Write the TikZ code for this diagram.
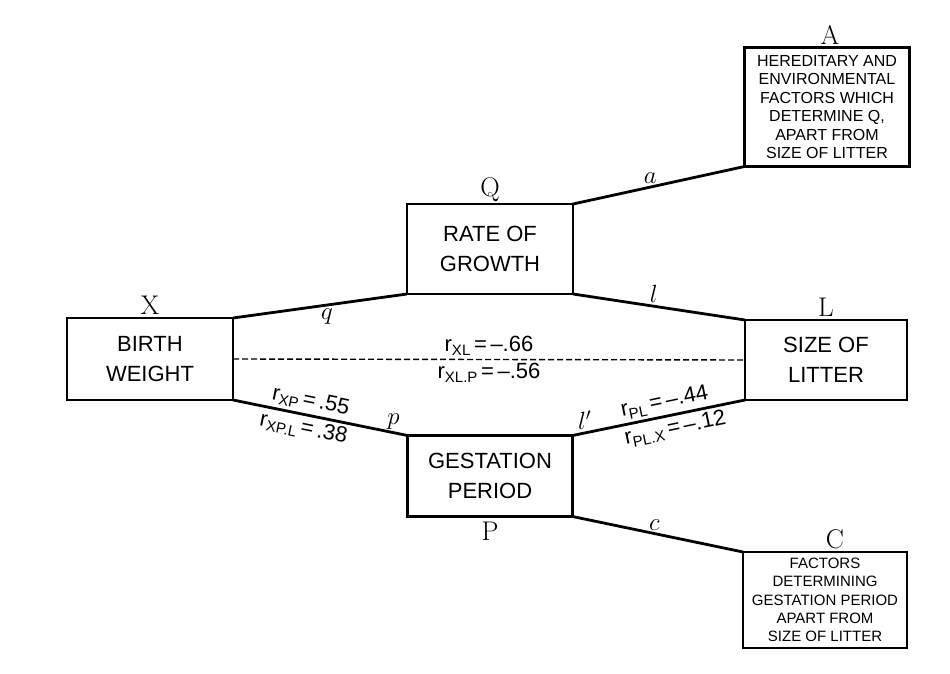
\documentclass[tikz,border=0pt]{standalone}
\usepackage{fontspec}
\setsansfont{Liberation Sans}
\usepackage{tikz}
\usetikzlibrary{positioning}

\newcommand{\rsub}[2]{r\raisebox{-0.35ex}{\fontsize{15}{15}\selectfont #1}\,=\,#2}

\begin{document}
\begin{tikzpicture}[x=1pt,y=-1pt,
    box/.style={draw,line width=2.8pt,align=center,inner sep=0pt,outer sep=0pt,
      font=\sffamily\fontsize{22}{30}\selectfont},
    note/.style={draw,line width=2.6pt,align=center,inner sep=0pt,outer sep=0pt},
    letter/.style={inner sep=0pt,font=\fontsize{27}{27}\selectfont},
    link/.style={line width=2.8pt},
    coef/.style={font=\fontsize{24}{24}\selectfont,inner sep=2pt},
    corr/.style={font=\sffamily\fontsize{22}{22}\selectfont,inner sep=3pt}]
    \useasboundingbox (0,0) rectangle (950,674);
    % boxes
    \node[box,minimum width=166pt,minimum height=82pt] (bx) at (150,359) {BIRTH\\WEIGHT};
    \node[box,minimum width=166pt,minimum height=90pt] (bq) at (490,249) {RATE OF\\GROWTH};
    \node[box,minimum width=162pt,minimum height=80pt] (bl) at (826,360) {SIZE OF\\LITTER};
    \node[box,minimum width=165pt,minimum height=81pt] (bp) at (490,476) {GESTATION\\PERIOD};
    \node[note,minimum width=165pt,minimum height=119pt,font=\sffamily\fontsize{16}{18.4}\selectfont]
      (ba) at (827,107) {HEREDITARY AND\\ENVIRONMENTAL\\FACTORS WHICH\\DETERMINE Q,\\APART FROM\\SIZE OF LITTER};
    \node[note,minimum width=164pt,minimum height=96pt,font=\sffamily\fontsize{15}{18.4}\selectfont]
      (bc) at (825,600) {FACTORS\\DETERMINING\\GESTATION PERIOD\\APART FROM\\SIZE OF LITTER};
    % letters
    \node[letter,above=3pt of bx] (lx) {X};
    \node[letter,above=2pt of bq] (lq) {Q};
    \node[letter,above=3pt of bl] (ll) {L};
    \node[letter,below=5pt of bp] (lp) {P};
    \node[letter,above=3pt of ba,xshift=3pt] (la) {A};
    \node[letter,above=3pt of bc,xshift=10pt] (lc) {C};
    % paths
    \draw[link] (bx.north east) -- node[coef,below,pos=.54] {$q$} (bq.south west);
    \draw[link] (bq.south east) -- node[coef,above,pos=.47] {$l$} (bl.north west);
    \draw[link] (bq.north east) -- node[coef,above,pos=.45] {$a$} (ba.south west);
    \draw[link] (bx.south east) -- node[coef,above,pos=.92] {$p$}
      node[corr,above,sloped,pos=.43] {\rsub{XP}{.55}}
      node[corr,below,sloped,pos=.42] {\rsub{XP.L}{.38}} (bp.north west);
    \draw[link] (bp.north east) -- node[coef,above,pos=.07] {$l'$}
      node[corr,above,sloped,pos=.55] {\rsub{PL}{--.44}}
      node[corr,below,sloped,pos=.58] {\rsub{PL.X}{--.12}} (bl.south west);
    \draw[link] (bp.south east) -- node[coef,above,pos=.48] {$c$} (bc.north west);
    \draw[line width=1.4pt,dash pattern=on 6pt off 3pt] (bx.east) --
      node[corr,above] {\rsub{XL}{--.66}}
      node[corr,below] {\rsub{XL.P}{--.56}} (bl.west);
\end{tikzpicture}
\end{document}
